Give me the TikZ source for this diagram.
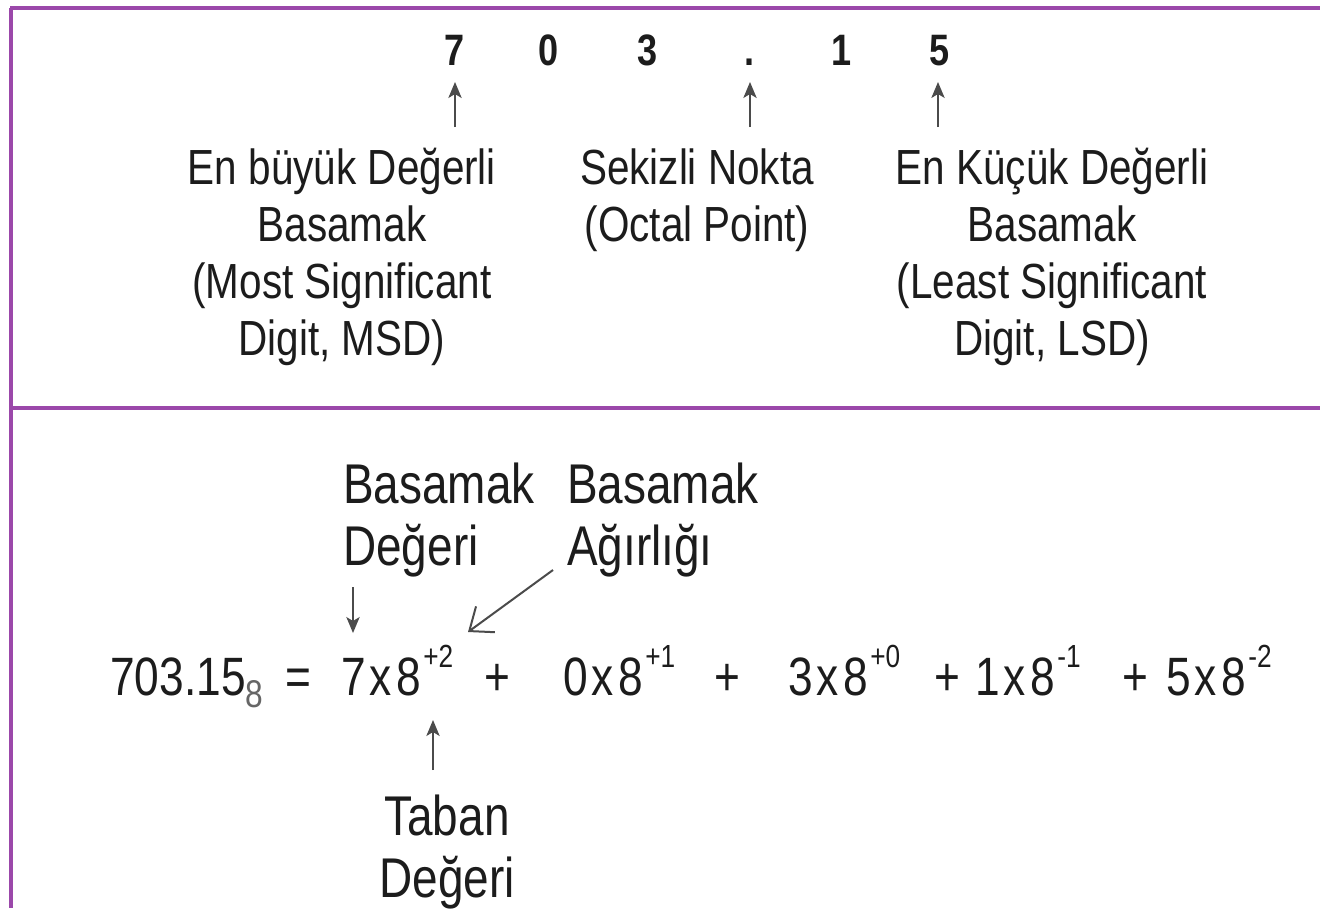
\documentclass[tikz,border=0pt]{standalone}
\usepackage{fontspec}
\setmainfont{Liberation Sans}[FakeStretch=0.82]
\usetikzlibrary{arrows.meta}
\definecolor{frame}{RGB}{155,72,170}
\definecolor{ink}{RGB}{28,28,28}
\definecolor{arrgray}{RGB}{75,75,75}
\newcommand{\supx}[1]{\raisebox{21pt}{\fontsize{24}{24}\selectfont #1}}
\newcommand{\subx}[1]{\raisebox{-9pt}{\fontsize{29}{29}\selectfont\color{gray!80!black}#1}}
\newcommand{\trm}[3]{#1\hspace{3pt}x\hspace{3pt}#2\hspace{2pt}\supx{#3}}
\begin{document}
\begin{tikzpicture}[x=0.75pt,y=-0.75pt,
  digit/.style={font=\fontsize{33}{33}\selectfont\bfseries, text=ink, inner sep=0, anchor=base},
  toplabel/.style={font=\fontsize{37}{42.75}\selectfont, text=ink, align=center, inner sep=0, anchor=base},
  botlabel/.style={font=\fontsize{42}{46.5}\selectfont, text=ink, align=left, inner sep=0, anchor=base west},
  eq/.style={font=\fontsize{40.5}{40.5}\selectfont, text=ink, inner sep=0, anchor=base west},
  eqc/.style={font=\fontsize{40.5}{40.5}\selectfont, text=ink, inner sep=0, anchor=base},
  uparr/.style={draw=arrgray, line width=1.1pt, -{Stealth[length=12pt,width=10pt,inset=3pt]}},
  barb/.style={draw=arrgray, line width=1.5pt, -{Straight Barb[length=15pt,width=24pt]}},
  frameline/.style={draw=frame, line width=2.5pt}
]
\useasboundingbox (0,0) rectangle (1320,908);
\fill[white] (0,0) rectangle (1320,908);
% frame
\draw[frameline] (10,8) -- (1320,8);
\draw[frameline] (11,8) -- (11,908);
\draw[frameline] (11,408) -- (1320,408);
% top digits
\node[digit] (d7) at (455,65) {7};
\node[digit] (d0) at (549,65) {0};
\node[digit] (d3) at (648,65) {3};
\node[digit] (dp) at (750,65) {.};
\node[digit] (d1) at (842,65) {1};
\node[digit] (d5) at (940,65) {5};
% top arrows
\coordinate (a1) at (455,127); \coordinate (a1t) at (455,82);
\coordinate (a2) at (750,127); \coordinate (a2t) at (750,82);
\coordinate (a3) at (938,127); \coordinate (a3t) at (938,82);
\draw[uparr] (a1) -- (a1t);
\draw[uparr] (a2) -- (a2t);
\draw[uparr] (a3) -- (a3t);
% top labels (base anchor = last line's baseline)
\node[toplabel] (msd) at (342,355) {En büyük Değerli\\Basamak\\(Most Significant\\Digit, MSD)};
\node[toplabel] (op) at (697,241) {Sekizli Nokta\\(Octal Point)};
\node[toplabel] (lsd) at (1052,355) {En Küçük Değerli\\Basamak\\(Least Significant\\Digit, LSD)};
% bottom labels
\node[botlabel] (bd) at (343,565) {Basamak\\Değeri};
\node[botlabel] (ba) at (567,565) {Basamak\\Ağırlığı};
\node[toplabel, font=\fontsize{42}{46.5}\selectfont] (td) at (447,897) {Taban\\Değeri};
% equation
\node[eq] (lhs) at (110,695) {703.15\subx{8}};
\node[eqc] (eqs) at (298,695) {=};
\node[eq] (t1) at (341,695) {\trm{7}{8}{+2}};
\node[eqc] (p1) at (497,695) {+};
\node[eq] (t2) at (563,695) {\trm{0}{8}{+1}};
\node[eqc] (p2) at (727,695) {+};
\node[eq] (t3) at (788,695) {\trm{3}{8}{+0}};
\node[eqc] (p3) at (947,695) {+};
\node[eq] (t4) at (975,695) {\trm{1}{8}{-1}};
\node[eqc] (p4) at (1135,695) {+};
\node[eq] (t5) at (1166,695) {\trm{5}{8}{-2}};
% bottom arrows
\coordinate (dv0) at (353,587); \coordinate (dv1) at (353,633);
\draw[uparr] (dv0) -- (dv1);
\coordinate (w0) at (553,570); \coordinate (w1) at (468,632);
\draw[barb] (w0) -- (w1);
\coordinate (tb0) at (433,770); \coordinate (tb1) at (433,720);
\draw[uparr] (tb0) -- (tb1);
\end{tikzpicture}
\end{document}
